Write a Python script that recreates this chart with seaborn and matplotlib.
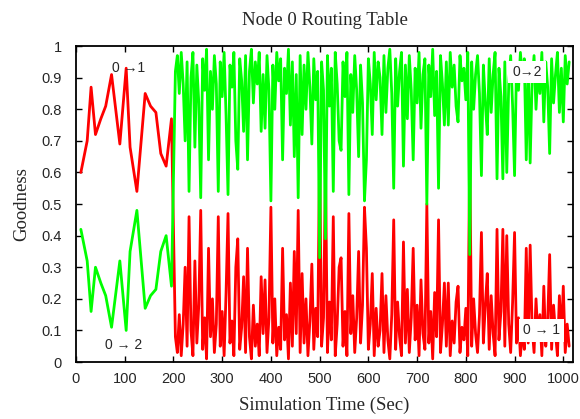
import numpy as np
import pandas as pd
import seaborn as sns
import matplotlib.pyplot as plt

sns.set_style("ticks")
plt.rcParams.update({
    "font.family": ["Liberation Sans", "DejaVu Sans"],
    "xtick.direction": "in",
    "ytick.direction": "in",
    "xtick.top": True,
    "ytick.right": True,
})

# early phase: sparse samples (sec)
t_early = [10, 23, 31, 40, 51, 61, 73, 90, 103, 111, 125, 142, 153, 164, 174, 185, 196]
good_01_early = [0.60, 0.70, 0.87, 0.72, 0.77, 0.81, 0.91, 0.69, 0.93, 0.68, 0.54, 0.85,
                 0.81, 0.79, 0.66, 0.62, 0.77]
good_02_early = [0.42, 0.32, 0.16, 0.30, 0.25, 0.21, 0.11, 0.32, 0.10, 0.35, 0.48, 0.17,
                 0.21, 0.23, 0.35, 0.40, 0.24]

# dense phase: one sample every 4 sec from 204 to 1012
t_dense = list(range(204, 1013, 4))
good_01_dense = [
    0.08, 0.03, 0.15, 0.02, 0.12, 0.30, 0.05, 0.46, 0.10, 0.02, 0.32, 0.06, 0.18, 0.48, 0.04, 0.14, 0.01, 0.36, 0.08, 0.20,
    0.03, 0.12, 0.46, 0.05, 0.16, 0.02, 0.22, 0.47, 0.06, 0.13, 0.02, 0.30, 0.39, 0.04, 0.11, 0.27, 0.03, 0.36, 0.08, 0.01,
    0.18, 0.05, 0.12, 0.02, 0.27, 0.09, 0.26, 0.03, 0.14, 0.49, 0.06, 0.20, 0.02, 0.11, 0.04, 0.36, 0.07, 0.15, 0.01, 0.25,
    0.05, 0.35, 0.09, 0.48, 0.03, 0.28, 0.06, 0.20, 0.02, 0.13, 0.31, 0.04, 0.17, 0.08, 0.67, 0.05, 0.14, 0.61, 0.03, 0.19,
    0.07, 0.46, 0.02, 0.12, 0.30, 0.33, 0.05, 0.16, 0.02, 0.47, 0.09, 0.21, 0.03, 0.14, 0.35, 0.06, 0.18, 0.49, 0.36, 0.04,
    0.12, 0.28, 0.02, 0.17, 0.05, 0.10, 0.28, 0.03, 0.21, 0.07, 0.01, 0.15, 0.45, 0.04, 0.19, 0.08, 0.02, 0.38, 0.06, 0.23,
    0.03, 0.14, 0.36, 0.07, 0.18, 0.02, 0.26, 0.09, 0.04, 0.50, 0.06, 0.16, 0.01, 0.22, 0.08, 0.45, 0.03, 0.12, 0.25, 0.05,
    0.25, 0.02, 0.13, 0.06, 0.19, 0.24, 0.03, 0.11, 0.07, 0.17, 0.02, 0.66, 0.05, 0.20, 0.09, 0.03, 0.15, 0.41, 0.06, 0.18,
    0.28, 0.04, 0.21, 0.09, 0.02, 0.42, 0.07, 0.16, 0.42, 0.05, 0.40, 0.12, 0.03, 0.19, 0.41, 0.06, 0.14, 0.02, 0.10, 0.04,
    0.36, 0.06, 0.37, 0.11, 0.03, 0.20, 0.08, 0.15, 0.02, 0.24, 0.05, 0.13, 0.34, 0.04, 0.18, 0.09, 0.02, 0.21, 0.07, 0.24,
    0.03, 0.12, 0.05,
]
good_02_dense = [
    0.92, 0.97, 0.85, 0.98, 0.88, 0.70, 0.95, 0.54, 0.90, 0.98, 0.68, 0.94, 0.82, 0.52, 0.96, 0.86, 0.99, 0.64, 0.92, 0.80,
    0.97, 0.88, 0.54, 0.95, 0.84, 0.98, 0.78, 0.53, 0.94, 0.87, 0.98, 0.70, 0.61, 0.96, 0.89, 0.73, 0.97, 0.64, 0.92, 0.99,
    0.82, 0.95, 0.88, 0.98, 0.73, 0.91, 0.74, 0.97, 0.86, 0.51, 0.94, 0.80, 0.98, 0.89, 0.96, 0.64, 0.93, 0.85, 0.99, 0.75,
    0.95, 0.65, 0.91, 0.52, 0.97, 0.72, 0.94, 0.80, 0.98, 0.87, 0.69, 0.96, 0.83, 0.92, 0.33, 0.95, 0.86, 0.39, 0.97, 0.81,
    0.93, 0.54, 0.98, 0.88, 0.70, 0.67, 0.95, 0.84, 0.98, 0.53, 0.91, 0.79, 0.97, 0.86, 0.65, 0.94, 0.82, 0.51, 0.64, 0.96,
    0.88, 0.72, 0.98, 0.83, 0.95, 0.90, 0.72, 0.97, 0.79, 0.93, 0.99, 0.85, 0.55, 0.96, 0.81, 0.92, 0.98, 0.62, 0.94, 0.77,
    0.97, 0.86, 0.64, 0.93, 0.82, 0.98, 0.74, 0.91, 0.96, 0.50, 0.94, 0.84, 0.99, 0.78, 0.92, 0.55, 0.97, 0.88, 0.75, 0.95,
    0.75, 0.98, 0.87, 0.94, 0.81, 0.76, 0.97, 0.89, 0.93, 0.83, 0.98, 0.34, 0.95, 0.80, 0.91, 0.97, 0.85, 0.59, 0.94, 0.82,
    0.72, 0.96, 0.79, 0.91, 0.98, 0.58, 0.93, 0.84, 0.58, 0.95, 0.60, 0.88, 0.97, 0.81, 0.59, 0.94, 0.86, 0.98, 0.90, 0.96,
    0.64, 0.94, 0.63, 0.89, 0.97, 0.80, 0.92, 0.85, 0.98, 0.76, 0.95, 0.87, 0.66, 0.96, 0.82, 0.91, 0.98, 0.79, 0.93, 0.76,
    0.97, 0.88, 0.95,
]

df = pd.DataFrame({
    "time": t_early + t_dense,
    "g01": good_01_early + good_01_dense,
    "g02": good_02_early + good_02_dense,
})

fig = plt.figure(figsize=(5.8, 4.19), dpi=100)
ax = fig.add_axes([0.131, 0.136, 0.857, 0.754])

sns.lineplot(data=df, x="time", y="g01", color="#ff0000", lw=2.0, estimator=None, ax=ax)
sns.lineplot(data=df, x="time", y="g02", color="#00ff00", lw=2.0, estimator=None, ax=ax)

ax.set_xlim(0, 1020)
ax.set_ylim(0, 1)
ax.set_xticks(np.arange(0, 1001, 100))
ax.set_yticks(np.arange(0, 1.01, 0.1))
ax.set_yticklabels(["0", "0.1", "0.2", "0.3", "0.4", "0.5", "0.6", "0.7", "0.8", "0.9", "1"])
ax.tick_params(axis="y", pad=10)
ax.tick_params(axis="x", pad=7)
ax.tick_params(labelsize=10.5, length=4, width=1, color="black")
for s in ax.spines.values():
    s.set_linewidth(1.3)
    s.set_color("black")

serif = ["Liberation Serif", "DejaVu Serif"]
ax.set_title("Node 0 Routing Table", family=serif, fontsize=13.5, pad=15)
ax.set_xlabel("Simulation Time (Sec)", family=serif, fontsize=13.5, labelpad=8)
ax.set_ylabel("Goodness", family=serif, fontsize=13.5, labelpad=8)

# route labels
ax.text(107, 0.93, "0 \u21921", fontsize=10, ha="center", va="center")
ax.text(97, 0.054, "0 \u2192 2", fontsize=10, ha="center", va="center")
ax.text(926, 0.918, "0\u21922", fontsize=10, ha="center", va="center",
        bbox=dict(facecolor="white", edgecolor="none", pad=3))
ax.text(955, 0.10, "0 \u2192 1", fontsize=10, ha="center", va="center",
        bbox=dict(facecolor="white", edgecolor="none", pad=3))

fig.savefig("out.png", dpi=100)
